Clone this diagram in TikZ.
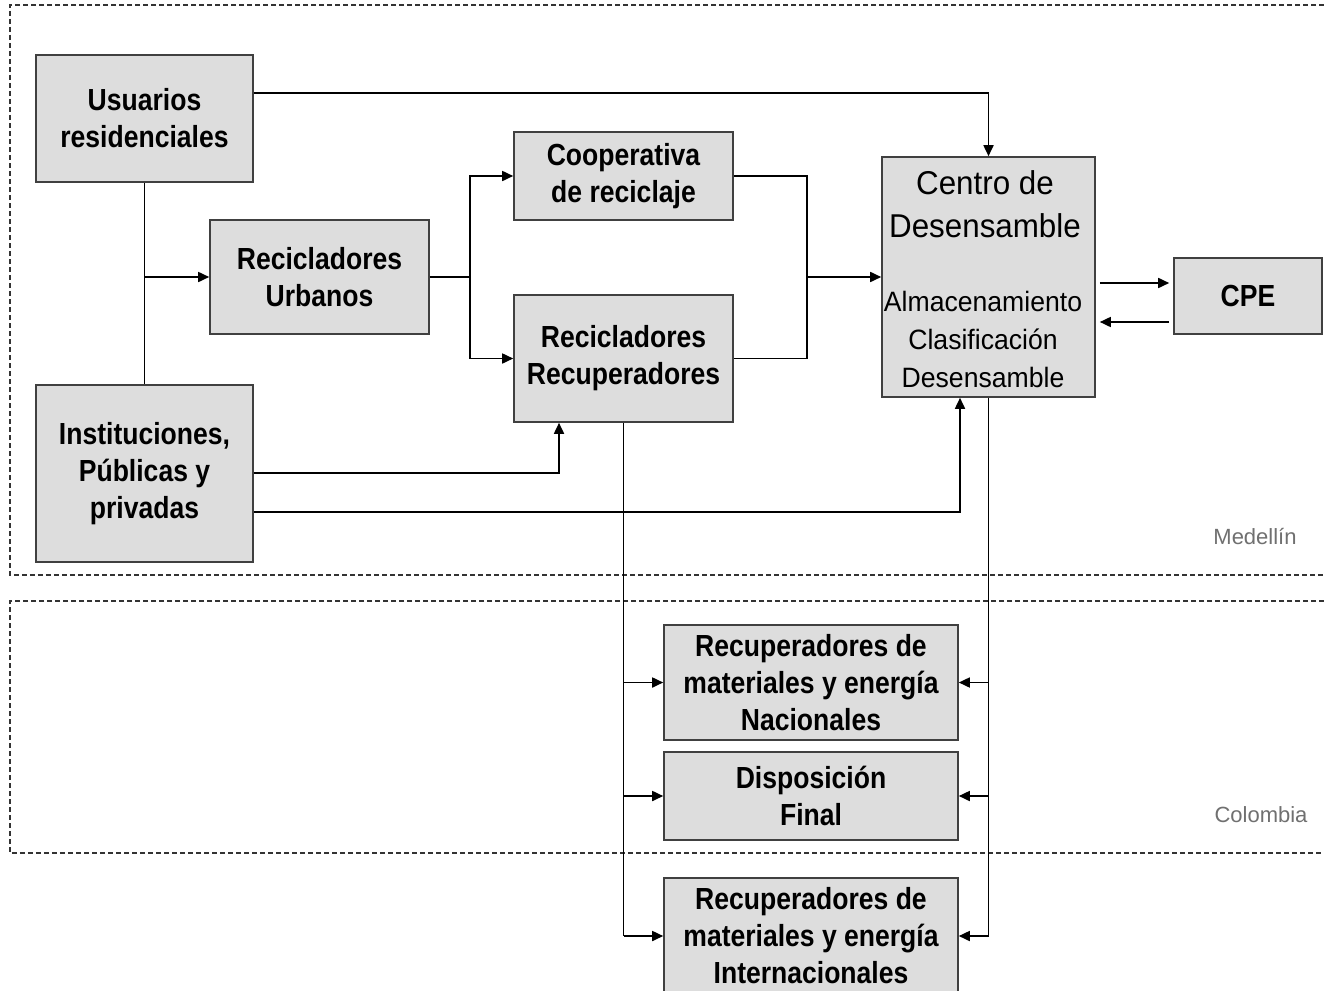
\documentclass[tikz,border=0pt]{standalone}
\usepackage{fontspec}
\setmainfont{Liberation Sans}
\newfontfamily\nb{Liberation Sans}[FakeStretch=0.87]
\newfontfamily\nr{Liberation Sans}[FakeStretch=0.95]
\usetikzlibrary{arrows.meta}
\definecolor{boxfill}{HTML}{DDDDDD}
\definecolor{boxline}{HTML}{404040}
\definecolor{lbl}{HTML}{707070}
\begin{document}
\begin{tikzpicture}[x=1pt,y=-1pt,
  box/.style={draw=boxline, fill=boxfill, line width=1.6pt, align=center, inner sep=0pt,
    font=\nb\bfseries\fontsize{30.5}{37}\selectfont},
  ln/.style={line width=1.7pt, black},
  arr/.style={ln, -{Triangle[length=11pt,width=10pt]}},
  zone/.style={dash pattern=on 5pt off 3pt, line width=1.3pt, black!80},
  zlbl/.style={font=\fontsize{22}{26}\selectfont, text=lbl}]
\useasboundingbox (0,0) rectangle (1324,990);
\fill[white] (0,0) rectangle (1324,990);
% zones
\draw[zone] (1340,5) -- (10,5) -- (10,575) -- (1340,575);
\draw[zone] (1340,601) -- (10,601) -- (10,853) -- (1340,853);
\node[zlbl] (med) at (1255,537) {Medellín};
\node[zlbl] (col) at (1261,815) {Colombia};
% boxes
\node[box, minimum width=217pt, minimum height=127pt] (usu) at (144.5,118.5) {Usuarios\\residenciales};
\node[box, minimum width=219pt, minimum height=114pt] (ru) at (319.5,277) {Recicladores\\Urbanos};
\node[box, minimum width=219pt, minimum height=88pt] (coop) at (623.5,176) {Cooperativa\\de reciclaje};
\node[box, minimum width=219pt, minimum height=127pt] (rr) at (623.5,358.5) {Recicladores\\Recuperadores};
\node[box, minimum width=217pt, minimum height=177pt] (inst) at (144.5,473.5) {Instituciones,\\Públicas y\\privadas};
\node[box, minimum width=213pt, minimum height=240pt] (cen) at (988.5,277) {};
\node[align=center, inner sep=0pt, font=\nr\fontsize{33}{43}\selectfont] (cent) at (985,204) {Centro de\\Desensamble};
\node[align=center, inner sep=0pt, font=\nr\fontsize{28}{38}\selectfont] (cenf) at (983,339) {Almacenamiento\\Clasificación\\Desensamble};
\node[box, minimum width=148pt, minimum height=76pt] (cpe) at (1248,296) {CPE};
\node[box, minimum width=294pt, minimum height=115pt] (nac) at (811,682.5) {Recuperadores de\\materiales y energía\\Nacionales};
\node[box, minimum width=294pt, minimum height=88pt] (disp) at (811,796) {Disposición\\Final};
\node[box, minimum width=294pt, minimum height=116pt] (int) at (811,936) {Recuperadores de\\materiales y energía\\Internacionales};
% connectors
\draw[ln] (usu.south) -- (inst.north);
\draw[arr] (usu.south |- ru.west) -- (ru.west);
\draw[arr] (usu.east |- 0,93) -| (cen.north);
\coordinate (j1) at (470,277);
\draw[ln] (ru.east) -- (j1);
\draw[arr] (j1) |- (coop.west);
\draw[arr] (j1) |- (rr.west);
\coordinate (j2) at (807,277);
\draw[ln] (coop.east) -| (j2);
\draw[ln] (rr.east) -| (j2);
\draw[arr] (j2) -- (cen.west);
\draw[arr] (inst.east |- 0,473) -| (rr.south -| 559,0);
\draw[arr] (inst.east |- 0,512) -| (cen.south -| 960,0);
\draw[arr, shorten <=4pt, shorten >=4pt] (cen.east |- 0,283) -- (cpe.west |- 0,283);
\draw[arr, shorten <=4pt, shorten >=4pt] (cpe.west |- 0,322) -- (cen.east |- 0,322);
\draw[ln] (rr.south) -- (rr.south |- int.west);
\draw[arr] (rr.south |- nac.west) -- (nac.west);
\draw[arr] (rr.south |- disp.west) -- (disp.west);
\draw[arr] (rr.south |- int.west) -- (int.west);
\draw[ln] (cen.south) -- (cen.south |- int.east);
\draw[arr] (cen.south |- nac.east) -- (nac.east);
\draw[arr] (cen.south |- disp.east) -- (disp.east);
\draw[arr] (cen.south |- int.east) -- (int.east);
\end{tikzpicture}
\end{document}
